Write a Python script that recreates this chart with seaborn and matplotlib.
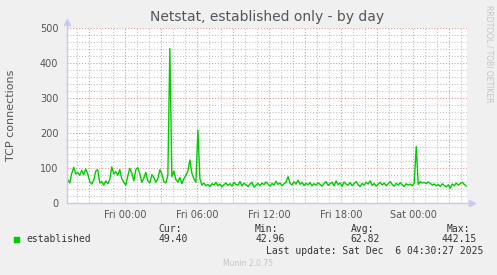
import matplotlib
matplotlib.use("Agg")
import matplotlib.pyplot as plt
import matplotlib.dates as mdates
from matplotlib.ticker import MultipleLocator, FuncFormatter
from matplotlib.patches import Rectangle
import numpy as np
import pandas as pd
import seaborn as sns

# ---------------- data ----------------
start_time = "2025-12-04 19:15"
step = "10min"
established = [
    68, 58, 85, 103, 84, 88, 80, 94, 82, 98, 84, 62, 55, 66, 92, 96, 58, 62, 52, 64,
    56, 68, 104, 84, 90, 80, 96, 70, 60, 52, 78, 100, 86, 64, 96, 102, 84, 60, 72, 88,
    64, 58, 82, 74, 60, 70, 96, 84, 62, 58, 80, 442, 76, 92, 68, 60, 74, 56, 70, 80,
    92, 124, 86, 70, 60, 209,
    70, 52, 58, 50, 54, 48, 56, 52, 60, 50, 55, 47, 53, 58, 51,
    56, 49, 60, 54, 52, 62, 50, 57, 53, 48, 55, 60, 46, 52, 57,
    50, 58, 53, 61, 55, 49, 57, 52, 63, 54, 58, 50, 56, 60, 76,
    58, 52, 62, 55, 66, 54, 60, 51, 57, 53, 59, 50, 56, 52, 58,
    54, 49, 57, 62, 51, 56, 60, 50, 64, 53, 58, 48, 61, 55, 52,
    59, 50, 56, 62, 53, 48, 57, 52, 60, 55, 64, 51, 57, 49, 55,
    60, 52, 58, 50, 56, 62, 54, 49, 57, 52, 59, 53, 48, 56, 52,
    55, 50, 58, 162, 54, 62, 58, 60, 56, 61, 57, 52, 55, 50, 54,
    48, 56, 51, 47, 53, 43, 55, 50, 58, 52, 56, 60, 54, 49,
]
x_start = "2025-12-04 19:10"
x_end = "2025-12-06 04:30"
y_max = 500
title = "Netstat, established only - by day"
ylabel = "TCP connections"
series_name = "established"
stat_labels = ["Cur:", "Min:", "Avg:", "Max:"]
stat_values = ["49.40", "42.96", "62.82", "442.15"]
last_update = "Last update: Sat Dec  6 04:30:27 2025"
footer = "Munin 2.0.75"
side_text = "RRDTOOL / TOBI OETIKER"

df = pd.DataFrame({
    "time": pd.date_range(start_time, periods=len(established), freq=step),
    "value": established,
})

# ---------------- style ----------------
sns.set_style("white")
plt.rcParams["font.family"] = ["DejaVu Sans"]
BG = "#f0f0f0"
TXT = "#555555"
GREEN = "#00cc00"
MINOR = "#c4c4c4"
MAJOR = "#e09898"
AXIS = "#c8c8f0"

W, H = 497, 275
fig = plt.figure(figsize=(W / 100, H / 100), dpi=100, facecolor=BG)
L, R, T, B = 66.7, 467.3, 28.3, 203.3
ax = fig.add_axes([L / W, 1 - B / H, (R - L) / W, (B - T) / H])
ax.set_facecolor("white")

sns.lineplot(data=df, x="time", y="value", ax=ax, color=GREEN, linewidth=1.0)

ax.set_xlim(pd.Timestamp(x_start), pd.Timestamp(x_end))
ax.set_ylim(0, y_max)

# x grid/ticks
ax.xaxis.set_major_locator(mdates.HourLocator(byhour=range(0, 24, 3)))
ax.xaxis.set_minor_locator(mdates.HourLocator())


def xfmt(v, pos):
    d = mdates.num2date(v)
    return d.strftime("%a %H:%M") if d.hour % 6 == 0 else ""


ax.xaxis.set_major_formatter(FuncFormatter(xfmt))
ax.yaxis.set_major_locator(MultipleLocator(100))
ax.yaxis.set_minor_locator(MultipleLocator(20))

dot = (0, (1, 1.6))
ax.grid(which="minor", color=MINOR, linestyle=dot, linewidth=0.8)
ax.grid(which="major", color=MAJOR, linestyle=dot, linewidth=0.8)
ax.set_axisbelow(True)

ax.tick_params(which="major", length=2, color=MAJOR, labelsize=7, labelcolor=TXT, pad=3)
ax.tick_params(which="minor", length=0)
ax.tick_params(axis="y", pad=4)
ax.set_xlabel("")
ax.set_ylabel("")

for s in ["top", "right"]:
    ax.spines[s].set_visible(False)
for s in ["left", "bottom"]:
    ax.spines[s].set_color(AXIS)
    ax.spines[s].set_linewidth(1.0)

# axis arrows
ax.plot([0, 0], [1, 1.035], transform=ax.transAxes, color=AXIS, lw=1, clip_on=False)
ax.plot([0], [1.035], marker="^", ms=4, color=AXIS, transform=ax.transAxes, clip_on=False)
ax.plot([1, 1.012], [0, 0], transform=ax.transAxes, color=AXIS, lw=1, clip_on=False)
ax.plot([1.012], [0], marker=">", ms=4, color=AXIS, transform=ax.transAxes, clip_on=False)

# texts
def fx(px):
    return px / W


def fy(py):
    return 1 - py / H


fig.text(fx((L + R) / 2), fy(17), title, ha="center", va="center", fontsize=10, color=TXT)
fig.text(fx(11), fy((T + B) / 2), ylabel, rotation=90, ha="center", va="center",
         fontsize=8, color=TXT)
fig.text(fx(489), fy(5), side_text, rotation=270, ha="center", va="top",
         fontsize=5.5, color="#c4c4c4")

mono = "DejaVu Sans Mono"
fig.add_artist(Rectangle((fx(14), fy(242)), 5 / W, 5 / H, transform=fig.transFigure,
                         color=GREEN))
fig.text(fx(26), fy(239.5), series_name, family=mono, fontsize=7, color="#333333",
         ha="left", va="center")
label_x = [158, 255, 351, 447]
value_right = [188, 285, 380, 477]
for lx, vr, lab, val in zip(label_x, value_right, stat_labels, stat_values):
    fig.text(fx(lx), fy(228.5), lab, family=mono, fontsize=7, color="#333333",
             ha="left", va="center")
    fig.text(fx(vr), fy(239.5), val, family=mono, fontsize=7, color="#333333",
             ha="right", va="center")
fig.text(fx(483), fy(251), last_update, family=mono, fontsize=7, color="#333333",
         ha="right", va="center")
fig.text(fx(248), fy(264), footer, fontsize=5.5, color="#c4c4c4", ha="center", va="center")

fig.savefig("out.png", dpi=100, facecolor=BG)
